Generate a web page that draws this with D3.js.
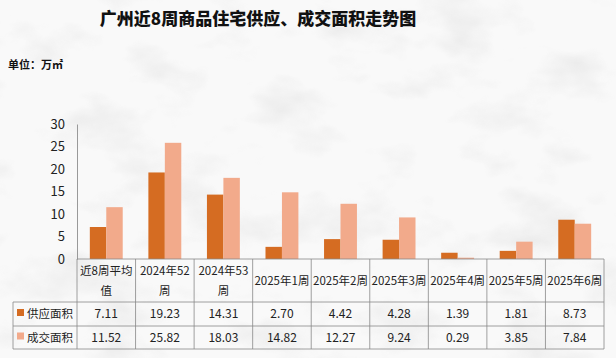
<!DOCTYPE html>
<html>
<head>
<meta charset="utf-8">
<script src="https://d3js.org/d3.v7.min.js"></script>
<style>
body { margin: 0; background: #fff; }
svg { display: block; font-family: "Noto Sans CJK SC", "Microsoft YaHei", sans-serif; }
</style>
</head>
<body>
<div id="chart"></div>
<script>
// data
const categories = ["近8周平均值", "2024年52周", "2024年53周", "2025年1周", "2025年2周", "2025年3周", "2025年4周", "2025年5周", "2025年6周"];
const catLines = [["近8周平均", "值"], ["2024年52", "周"], ["2024年53", "周"], ["2025年1周"], ["2025年2周"], ["2025年3周"], ["2025年4周"], ["2025年5周"], ["2025年6周"]];
const supply = [7.11, 19.23, 14.31, 2.70, 4.42, 4.28, 1.39, 1.81, 8.73];
const deal = [11.52, 25.82, 18.03, 14.82, 12.27, 9.24, 0.29, 3.85, 7.84];
const seriesNames = ["供应面积", "成交面积"];
const yTicks = [0, 5, 10, 15, 20, 25, 30];

const W = 616, H = 358;
const colors = ["#d56c22", "#f2aa8b"];
const plotL = 77, plotR = 604, plotT = 124, base = 259;
const rowY = [259, 302, 326, 349];

const svg = d3.select("#chart").append("svg").attr("width", W).attr("height", H);

// background, faint marble-ish
const bg = svg.append("g");
bg.append("rect").attr("width", W).attr("height", H).attr("fill", "#f9f9f9");
const defs = svg.append("defs");
const f = defs.append("filter").attr("id", "marble");
f.append("feTurbulence").attr("type", "fractalNoise").attr("baseFrequency", "0.012 0.02").attr("numOctaves", 4).attr("seed", 7);
f.append("feColorMatrix").attr("type", "matrix")
  .attr("values", "0 0 0 0 0.55  0 0 0 0 0.55  0 0 0 0 0.55  -2.4 0 0 0 1.2");
bg.append("rect").attr("width", W).attr("height", H).attr("filter", "url(#marble)").attr("opacity", 0.3);

// title
svg.append("text").attr("x", 258).attr("y", 25).attr("text-anchor", "middle")
  .attr("font-size", 17).attr("font-weight", 900).attr("fill", "#111")
  .text("广州近8周商品住宅供应、成交面积走势图");
svg.append("text").attr("x", 8).attr("y", 69)
  .attr("font-size", 11).attr("font-weight", 700).attr("fill", "#111")
  .text("单位：万㎡");

const x = d3.scaleBand().domain(categories).range([plotL, plotR]);
const x1 = d3.scaleBand().domain(seriesNames).range([0, x.bandwidth()]).paddingOuter(0.78).paddingInner(0);
const y = d3.scaleLinear().domain([0, 30]).range([base, plotT]);

// y axis
const ya = svg.append("g").attr("transform", `translate(${plotL},0)`)
  .call(d3.axisLeft(y).tickValues(yTicks).tickSize(0).tickPadding(12));
ya.select(".domain").attr("stroke", "#999");
ya.selectAll("text").attr("font-size", 13).attr("fill", "#222")
  .attr("font-family", "'Noto Sans CJK SC', sans-serif");

// bars
const data = [supply, deal];
data.forEach((vals, s) => {
  svg.append("g").selectAll("rect").data(vals).enter().append("rect")
    .attr("x", (d, i) => x(categories[i]) + x1(seriesNames[s]))
    .attr("y", d => y(d))
    .attr("width", x1.bandwidth())
    .attr("height", d => base - y(d))
    .attr("fill", colors[s]);
});

// data table
const tbl = svg.append("g").attr("stroke", "#888").attr("stroke-width", 0.8);
tbl.append("line").attr("x1", plotL).attr("x2", plotR).attr("y1", rowY[0]).attr("y2", rowY[0]);
[1, 2, 3].forEach(r => tbl.append("line").attr("x1", 13).attr("x2", plotR).attr("y1", rowY[r]).attr("y2", rowY[r]));
tbl.append("line").attr("x1", 13).attr("x2", 13).attr("y1", rowY[1]).attr("y2", rowY[3]);
categories.forEach(c => tbl.append("line").attr("x1", x(c)).attr("x2", x(c)).attr("y1", rowY[0]).attr("y2", rowY[3]));
tbl.append("line").attr("x1", plotR).attr("x2", plotR).attr("y1", rowY[0]).attr("y2", rowY[3]);

const txt = svg.append("g").attr("font-size", 11.5).attr("fill", "#222").attr("text-anchor", "middle");
catLines.forEach((lines, i) => {
  const cx = x(categories[i]) + x.bandwidth() / 2;
  const y0 = lines.length === 1 ? 281 : 271;
  lines.forEach((l, k) => {
    txt.append("text").attr("x", cx).attr("y", y0 + k * 20).attr("dy", "0.36em").text(l);
  });
});
data.forEach((vals, s) => {
  const cy = (rowY[s + 1] + rowY[s + 2]) / 2;
  vals.forEach((v, i) => {
    txt.append("text").attr("x", x(categories[i]) + x.bandwidth() / 2).attr("y", cy).attr("dy", "0.36em")
      .attr("font-size", 12).text(v.toFixed(2));
  });
  svg.append("rect").attr("x", 17).attr("y", cy - 5).attr("width", 7).attr("height", 7).attr("fill", colors[s]);
  svg.append("text").attr("x", 27).attr("y", cy).attr("dy", "0.36em").attr("font-size", 11.5).attr("fill", "#222")
    .text(seriesNames[s]);
});
</script>
</body>
</html>
